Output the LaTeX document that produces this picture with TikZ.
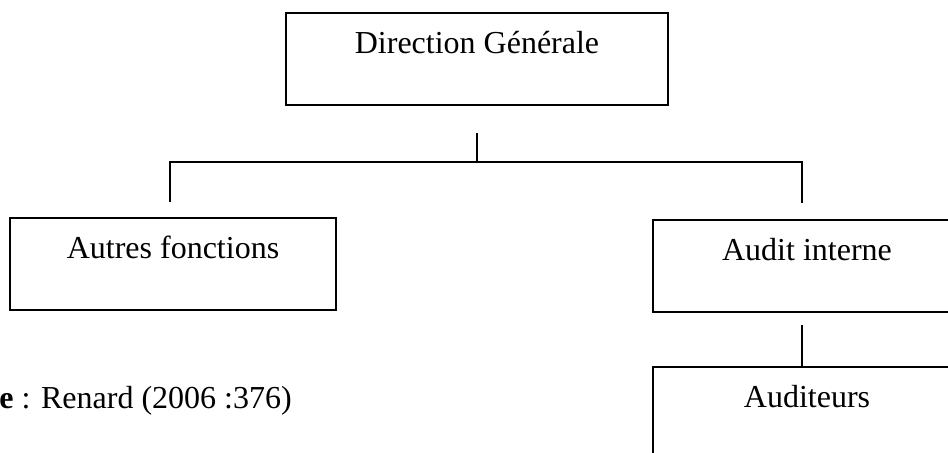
\documentclass[tikz,border=0pt]{standalone}
\usepackage{fontspec}
\setmainfont{Liberation Serif}
\usetikzlibrary{calc}
\begin{document}
\begin{tikzpicture}[x=0.5pt,y=-0.5pt,
  unit box/.style={draw, line width=0.8pt, rectangle, inner sep=0pt,
    text height=20pt, text depth=26pt, minimum height=46pt,
    font=\fontsize{16}{19}\selectfont},
  link/.style={draw, line width=0.65pt}]
  \clip (0,0) rectangle (948,452);
  \fill[white] (0,0) rectangle (948,452);

  % organisation chart boxes
  \node[unit box, minimum width=191pt] (dg) at (477,59)   {Direction Générale};
  \node[unit box, minimum width=163pt] (af) at (173,264)  {Autres fonctions};
  \node[unit box, minimum width=154pt] (ai) at (807,266)  {Audit interne};
  \node[unit box, minimum width=154pt] (au) at (807,413)  {Auditeurs};

  % branching points
  \coordinate (dgs) at ($(dg.south)+(0,27)$);
  \coordinate (bar) at (477,162);
  \coordinate (jl)  at (170,202);
  \coordinate (jr)  at (802,203);
  \coordinate (ais) at (802,325);

  \draw[link] (dgs) -- (bar);
  \draw[link] (jl) |- (bar) -| (jr);
  \draw[link] (ais) -- (ais |- au.north);

  % source line
  \node[anchor=base west, inner sep=0pt, font=\fontsize{16}{19}\selectfont]
    (src) at (-1,408) {\textbf{e} : Renard (2006 :376)};
\end{tikzpicture}
\end{document}
